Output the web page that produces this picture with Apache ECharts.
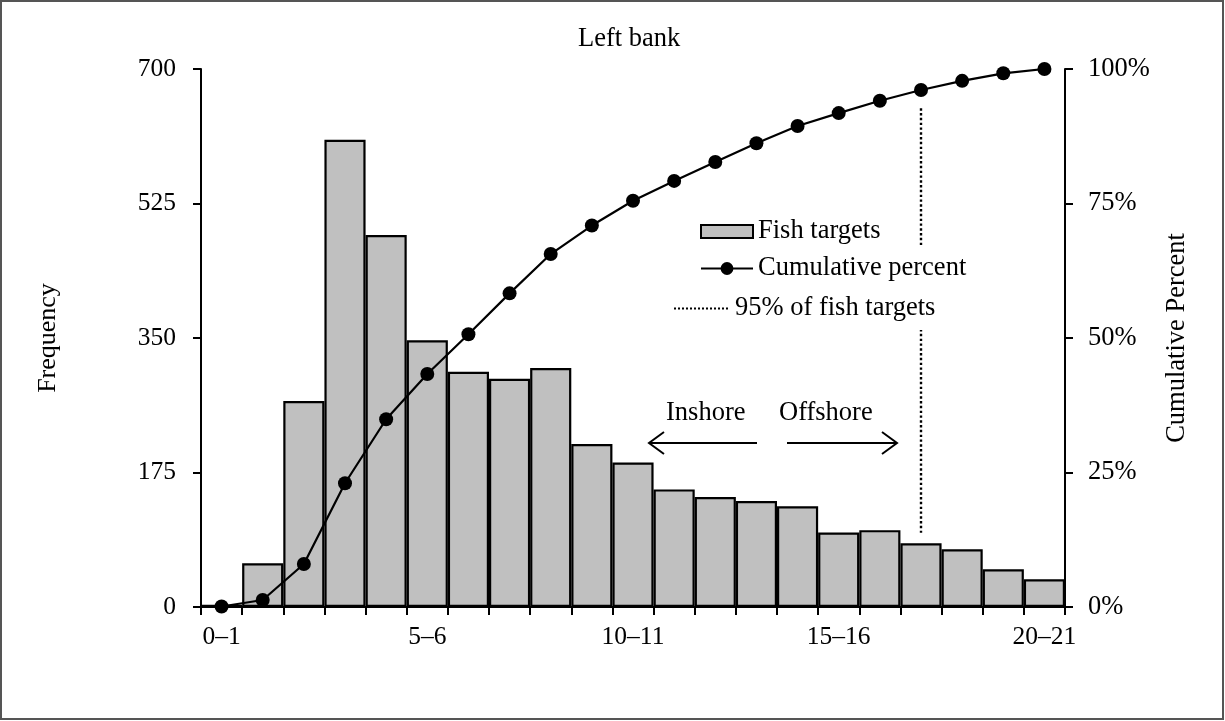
<!DOCTYPE html>
<html>
<head>
<meta charset="utf-8">
<script src="https://cdn.jsdelivr.net/npm/echarts@6/dist/echarts.min.js"></script>
<style>
html,body{margin:0;padding:0;background:#fff;}
#chart{width:1225px;height:721px;}
</style>
</head>
<body>
<div id="chart"></div>
<script>
var categories = ['0–1','1–2','2–3','3–4','4–5','5–6','6–7','7–8','8–9','9–10','10–11','11–12','12–13','13–14','14–15','15–16','16–17','17–18','18–19','19–20','20–21'];
var frequency = [3, 57, 268, 608, 484, 347, 306, 297, 311, 212, 188, 153, 143, 138, 131, 97, 100, 83, 75, 49, 36];
var cumulativePercent = [0.1, 1.3, 8.0, 23.0, 34.9, 43.3, 50.7, 58.3, 65.6, 70.9, 75.5, 79.2, 82.7, 86.2, 89.4, 91.8, 94.1, 96.1, 97.8, 99.2, 100];
var leftTicks = [0, 175, 350, 525, 700];
var rightTicks = [0, 25, 50, 75, 100];
var marker95Category = '17–18';
var marker95Range = [92.7, 13.8];

var FONT = 'Liberation Serif';
var chart = echarts.init(document.getElementById('chart'), null, {renderer: 'canvas'});

var option = {
  animation: false,
  backgroundColor: '#fff',
  textStyle: {fontFamily: FONT, color: '#000'},
  title: {
    text: 'Left bank',
    left: 573, top: 21,
    textStyle: {fontFamily: FONT, fontSize: 26.5, fontWeight: 'normal', color: '#000'}
  },
  grid: {left: 201, right: 160, top: 69, bottom: 114, containLabel: false},
  legend: [
    {
      data: ['Fish targets'],
      left: 700, top: 218, padding: 0, z: 10,
      itemWidth: 52, itemHeight: 13, icon: 'rect',
      textStyle: {fontFamily: FONT, fontSize: 26.5, color: '#000'},
      selectedMode: false
    },
    {
      data: ['Cumulative percent'],
      left: 696, top: 247, padding: [8, 4], z: 10,
      backgroundColor: '#fff',
      itemWidth: 52, itemHeight: 16,
      textStyle: {fontFamily: FONT, fontSize: 26.5, color: '#000'},
      selectedMode: false
    },
    {
      data: [{name: '95% of fish targets', itemStyle: {opacity: 0, color: 'rgba(0,0,0,0)', borderWidth: 0}}],
      left: 669, top: 287, padding: [8, 4], z: 10,
      backgroundColor: '#fff',
      itemWidth: 56, itemHeight: 13,
      textStyle: {fontFamily: FONT, fontSize: 26.5, color: '#000'},
      selectedMode: false
    }
  ],
  xAxis: {
    type: 'category',
    data: categories,
    boundaryGap: true,
    axisLine: {lineStyle: {color: '#000', width: 2}},
    axisTick: {show: true, interval: 0, length: 8, alignWithLabel: false, lineStyle: {color: '#000', width: 2}},
    axisLabel: {interval: 4, margin: 17, fontFamily: FONT, fontSize: 25.5, color: '#000'},
    splitLine: {show: false}
  },
  yAxis: [
    {
      type: 'value', min: leftTicks[0], max: leftTicks[leftTicks.length - 1], interval: leftTicks[1] - leftTicks[0],
      position: 'left',
      name: 'Frequency', nameLocation: 'middle', nameGap: 140, nameRotate: 90,
      nameTextStyle: {fontFamily: FONT, fontSize: 26, color: '#000'},
      axisLine: {show: true, lineStyle: {color: '#000', width: 2}},
      axisTick: {show: true, length: 8, lineStyle: {color: '#000', width: 2}},
      axisLabel: {margin: 25, fontFamily: FONT, fontSize: 25.5, color: '#000'},
      splitLine: {show: false}
    },
    {
      type: 'value', min: rightTicks[0], max: rightTicks[rightTicks.length - 1], interval: rightTicks[1] - rightTicks[0],
      position: 'right',
      name: 'Cumulative Percent', nameLocation: 'middle', nameGap: 99, nameRotate: 90,
      nameTextStyle: {fontFamily: FONT, fontSize: 26.5, color: '#000'},
      axisLine: {show: true, lineStyle: {color: '#000', width: 2}},
      axisTick: {show: true, length: 8, lineStyle: {color: '#000', width: 2}},
      axisLabel: {margin: 23, fontFamily: FONT, fontSize: 26.5, color: '#000', formatter: '{value}%'},
      splitLine: {show: false}
    }
  ],
  series: [
    {
      name: 'Fish targets',
      type: 'bar',
      data: frequency,
      yAxisIndex: 0,
      barWidth: '100%',
      barCategoryGap: 0,
      itemStyle: {color: '#c0c0c0', borderColor: '#000', borderWidth: 2.2},
      z: 2
    },
    {
      name: 'Cumulative percent',
      type: 'line',
      data: cumulativePercent,
      yAxisIndex: 1,
      symbol: 'circle',
      symbolSize: 14,
      lineStyle: {color: '#000', width: 2.2},
      itemStyle: {color: '#000'},
      z: 4
    },
    {
      name: '95% of fish targets',
      type: 'line',
      data: [],
      yAxisIndex: 1,
      symbol: 'none',
      lineStyle: {color: '#000', width: 2, type: 'dotted'},
      itemStyle: {color: '#000'},
      markLine: {
        silent: true,
        z: 3,
        symbol: ['none', 'none'],
        label: {show: false},
        lineStyle: {color: '#000', width: 2.4, type: 'dotted'},
        data: [[
          {coord: [marker95Category, marker95Range[0]]},
          {coord: [marker95Category, marker95Range[1]]}
        ]]
      },
      z: 3
    }
  ],
  graphic: [
    {type: 'rect', shape: {x: 1, y: 1, width: 1222, height: 718}, style: {fill: 'none', stroke: '#555', lineWidth: 2}, silent: true},
    {type: 'text', left: 666, top: 400, style: {text: 'Inshore', font: '26.5px "Liberation Serif"', fill: '#000'}},
    {type: 'text', left: 779, top: 400, style: {text: 'Offshore', font: '26.5px "Liberation Serif"', fill: '#000'}},
    {type: 'line', shape: {x1: 649, y1: 443, x2: 757, y2: 443}, style: {stroke: '#000', lineWidth: 2}},
    {type: 'polyline', shape: {points: [[664, 432], [649, 443], [664, 454]]}, style: {stroke: '#000', lineWidth: 2, fill: 'none'}},
    {type: 'line', shape: {x1: 787, y1: 443, x2: 897, y2: 443}, style: {stroke: '#000', lineWidth: 2}},
    {type: 'polyline', shape: {points: [[882, 432], [897, 443], [882, 454]]}, style: {stroke: '#000', lineWidth: 2, fill: 'none'}}
  ]
};
chart.setOption(option);
</script>
</body>
</html>
